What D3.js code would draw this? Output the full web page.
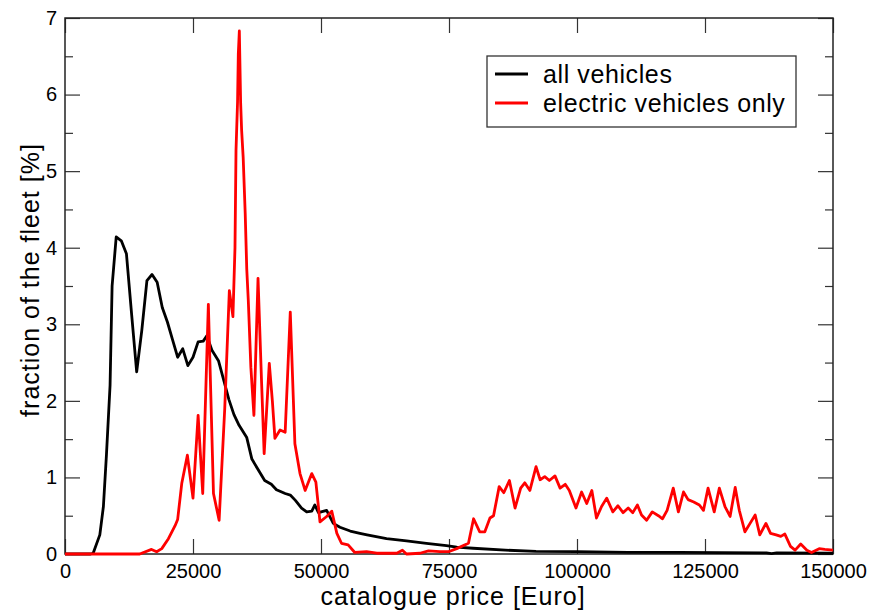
<!DOCTYPE html>
<html>
<head>
<meta charset="utf-8">
<script src="https://cdn.jsdelivr.net/npm/d3@7"></script>
<style>
  body { margin: 0; background: #fff; }
  text { font-family: "Liberation Sans", Arial, Helvetica, sans-serif; }
</style>
</head>
<body>
<div id="chart-area"></div>
<script>
// catalogue price [Euro] vs fraction of the fleet [%]
var allPrice = [0, 5000, 5500, 6800, 7500, 8100, 8800, 9200, 10000, 11000, 12000, 13000, 14000, 15000,
    16000, 17000, 18000, 19000, 20000, 21000, 22000, 23000, 24000, 25000, 26000, 27000, 27700, 28700,
    30000, 31000, 32000, 33000, 34000, 35500, 36500, 38000, 39000, 40300, 41300, 43000, 44000, 45000,
    46200, 47200, 48200, 48800, 49500, 51100, 52400, 53700, 55700, 57600, 59000, 62800, 66700, 70600,
    74500, 76500, 79700, 86000, 92000, 100000, 110000, 120000, 137000, 138000, 139000, 150000];
var allFrac = [0, 0, 0.01, 0.25, 0.62, 1.3, 2.2, 3.5, 4.14, 4.09, 3.92, 3.14, 2.38, 2.92,
    3.57, 3.65, 3.55, 3.22, 3.03, 2.8, 2.57, 2.68, 2.46, 2.57, 2.77, 2.78, 2.85, 2.66,
    2.52, 2.27, 2.02, 1.82, 1.68, 1.52, 1.24, 1.07, 0.96, 0.91, 0.84, 0.79, 0.77, 0.7,
    0.6, 0.55, 0.56, 0.64, 0.54, 0.57, 0.4, 0.35, 0.3, 0.27, 0.25, 0.2, 0.17, 0.14,
    0.11, 0.09, 0.075, 0.05, 0.035, 0.03, 0.02, 0.02, 0.015, 0.005, 0.015, 0.01];

var evPrice = [0, 14600, 16900, 17900, 18900, 20200, 21500, 22000, 22800, 23900, 25000, 26000, 26900,
    28000, 29000, 30100, 31200, 32100, 32800, 33200, 33400, 33700, 33850, 34050, 34300, 34500, 34800,
    35200, 35500, 35800, 36300, 36900, 37700, 38400, 38900, 39900, 40500, 41000, 42000, 43000, 44000,
    44900, 45900, 46900, 48200, 49000, 49800, 51100, 52100, 53100, 54000, 55300, 56600, 58900, 60900,
    64800, 65900, 66700, 69300, 71000, 73200, 74900, 76500, 78800, 79800, 81000, 82000, 83000, 83700,
    84800, 85700, 86800, 87900, 89000, 89800, 90800, 92000, 92800, 93700, 94600, 95700, 96700, 97700,
    98500, 99800, 100900, 101900, 102900, 103800, 104800, 105800, 107000, 108000, 109000, 110000,
    110900, 111800, 112600, 113600, 114700, 115900, 116700, 117600, 118800, 119800, 120800, 121700,
    122800, 123900, 124700, 125600, 126800, 127800, 128900, 129900, 130900, 131700, 132800, 133800,
    134800, 135700, 136900, 137800, 138900, 139800, 140600, 141700, 142600, 143700, 144900, 145800,
    147300, 148400, 150000];
var evFrac = [0, 0, 0.06, 0.03, 0.07, 0.2, 0.37, 0.45, 0.92, 1.29, 0.73, 1.81, 0.79,
    3.26, 0.79, 0.44, 1.9, 3.44, 3.1, 4.0, 5.27, 5.9, 6.53, 6.83, 5.9, 5.53, 5.18,
    4.44, 3.72, 3.31, 2.44, 1.81, 3.6, 2.23, 1.31, 2.49, 2.0, 1.51, 1.62, 1.59, 3.16,
    1.44, 1.05, 0.83, 1.05, 0.94, 0.42, 0.49, 0.56, 0.27, 0.14, 0.12, 0.02, 0.03, 0.01,
    0.01, 0.05, 0.0, 0.01, 0.04, 0.03, 0.03, 0.07, 0.14, 0.46, 0.29, 0.29, 0.47, 0.5,
    0.88, 0.8, 0.96, 0.6, 0.86, 0.93, 0.83, 1.14, 0.97, 1.01, 0.96, 1.02, 0.86, 0.91,
    0.83, 0.6, 0.81, 0.66, 0.83, 0.47, 0.62, 0.73, 0.55, 0.63, 0.54, 0.6,
    0.54, 0.64, 0.51, 0.44, 0.55, 0.5, 0.46, 0.57, 0.86, 0.55, 0.81, 0.71,
    0.68, 0.64, 0.57, 0.86, 0.55, 0.86, 0.62, 0.49, 0.87, 0.57, 0.29, 0.4,
    0.51, 0.25, 0.4, 0.27, 0.25, 0.23, 0.26, 0.1, 0.05, 0.13, 0.05, 0.02,
    0.07, 0.06, 0.05];

var xTicks = [0, 25000, 50000, 75000, 100000, 125000, 150000];
var yTicks = [0, 1, 2, 3, 4, 5, 6, 7];
var yMinor = [0.5, 1.5, 2.5, 3.5, 4.5, 5.5, 6.5];

var seriesNames = ["all vehicles", "electric vehicles only"];
var seriesColors = ["#000000", "#ff0000"];

var margin = { left: 65, right: 40, top: 18, bottom: 58 },
    width = 873 - margin.left - margin.right,
    height = 612 - margin.top - margin.bottom;

var svg = d3.select("#chart-area").append("svg")
    .attr("width", width + margin.left + margin.right)
    .attr("height", height + margin.top + margin.bottom);

var g = svg.append("g")
    .attr("transform", "translate(" + margin.left + "," + margin.top + ")");

// Scales
var x = d3.scaleLinear().domain([0, 150000]).range([0, width]);
var y = d3.scaleLinear().domain([0, 7]).range([height, 0]);

var fontFam = '"Liberation Sans", Arial, Helvetica, sans-serif';

function styleAxis(sel) {
    sel.select(".domain").remove();
    sel.selectAll("line").attr("stroke", "#333").attr("stroke-width", 1.2);
    sel.selectAll("text").attr("fill", "#000");
    sel.attr("font-size", 20).attr("font-family", fontFam);
}

// Axes (ticks point inward, mirrored on top/right)
g.append("g")
    .attr("transform", "translate(0," + height + ")")
    .call(d3.axisBottom(x).tickValues(xTicks).tickSize(-15).tickPadding(10).tickFormat(d3.format("d")))
    .call(styleAxis);
g.append("g")
    .call(d3.axisTop(x).tickValues(xTicks).tickSize(-15).tickFormat(""))
    .call(styleAxis);
g.append("g")
    .call(d3.axisLeft(y).tickValues(yTicks).tickSize(-15).tickPadding(8).tickFormat(d3.format("d")))
    .call(styleAxis);
g.append("g")
    .call(d3.axisLeft(y).tickValues(yMinor).tickSize(-8).tickFormat(""))
    .call(styleAxis);
g.append("g")
    .attr("transform", "translate(" + width + ",0)")
    .call(d3.axisRight(y).tickValues(yTicks).tickSize(-15).tickFormat(""))
    .call(styleAxis);
g.append("g")
    .attr("transform", "translate(" + width + ",0)")
    .call(d3.axisRight(y).tickValues(yMinor).tickSize(-8).tickFormat(""))
    .call(styleAxis);

// Frame
g.append("rect")
    .attr("width", width)
    .attr("height", height)
    .attr("fill", "none")
    .attr("stroke", "#222")
    .attr("stroke-width", 1.5);

// Lines
var line = d3.line()
    .x(function(d) { return x(d[0]); })
    .y(function(d) { return y(d[1]); });

var series = [
    d3.zip(allPrice, allFrac),
    d3.zip(evPrice, evFrac)
];

series.forEach(function(s, i) {
    g.append("path")
        .attr("fill", "none")
        .attr("stroke", seriesColors[i])
        .attr("stroke-width", 2.8)
        .attr("stroke-linejoin", "round")
        .attr("d", line(s));
});

// Axis titles
svg.append("text")
    .attr("x", margin.left + width / 2 + 4)
    .attr("y", 605)
    .attr("text-anchor", "middle")
    .attr("font-size", 25)
    .attr("letter-spacing", 1)
    .text("catalogue price [Euro]");

svg.append("text")
    .attr("transform", "translate(39,280) rotate(-90)")
    .attr("text-anchor", "middle")
    .attr("font-size", 25)
    .attr("letter-spacing", 1)
    .text("fraction of the fleet [%]");

// Legend
var legend = svg.append("g");
legend.append("rect")
    .attr("x", 487).attr("y", 56)
    .attr("width", 309).attr("height", 71)
    .attr("fill", "#fff")
    .attr("stroke", "#333")
    .attr("stroke-width", 1.3);

seriesNames.forEach(function(name, i) {
    var ly = 74 + i * 29;
    legend.append("line")
        .attr("x1", 495).attr("x2", 528)
        .attr("y1", ly).attr("y2", ly)
        .attr("stroke", seriesColors[i])
        .attr("stroke-width", 2.8);
    legend.append("text")
        .attr("x", 543).attr("y", ly + 9)
        .attr("font-size", 25)
        .attr("letter-spacing", 0.6)
        .text(name);
});
</script>
</body>
</html>
